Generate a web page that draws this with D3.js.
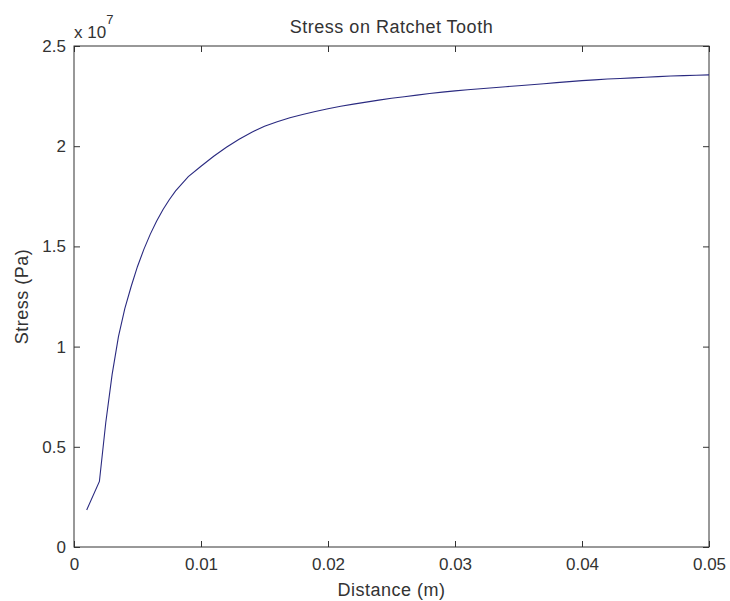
<!DOCTYPE html>
<html>
<head>
<meta charset="utf-8">
<script src="https://cdn.jsdelivr.net/npm/d3@7"></script>
<style>
  body { margin: 0; background: #fff; }
  svg text { font-family: "Liberation Sans", Arial, sans-serif; fill: #333; }
</style>
</head>
<body>
<div id="graph"></div>
<script>
const width = 730, height = 601;
const margin = {top: 46, right: 21, bottom: 54, left: 74};

// distance (m)
const distance = [0.001, 0.002, 0.0025, 0.003, 0.0035, 0.004, 0.0045, 0.005, 0.0055, 0.006,
  0.0065, 0.007, 0.0075, 0.008, 0.009, 0.010, 0.011, 0.012, 0.013, 0.014,
  0.015, 0.016, 0.017, 0.018, 0.019, 0.020, 0.021, 0.022, 0.023, 0.024,
  0.025, 0.026, 0.027, 0.028, 0.029, 0.030, 0.031, 0.032, 0.033, 0.034,
  0.035, 0.036, 0.037, 0.038, 0.039, 0.040, 0.041, 0.042, 0.043, 0.044,
  0.045, 0.046, 0.047, 0.048, 0.049, 0.050];
// stress in units of 1e7 Pa
const stress = [0.185, 0.327, 0.62, 0.86, 1.05, 1.19, 1.30, 1.40, 1.485, 1.56,
  1.625, 1.683, 1.733, 1.777, 1.848, 1.90, 1.95, 1.995, 2.035, 2.07,
  2.10, 2.122, 2.142, 2.158, 2.173, 2.187, 2.199, 2.21, 2.22, 2.23,
  2.239, 2.247, 2.255, 2.263, 2.27, 2.276, 2.282, 2.287, 2.292, 2.297,
  2.302, 2.307, 2.312, 2.317, 2.322, 2.327, 2.331, 2.335, 2.338, 2.341,
  2.344, 2.347, 2.35, 2.352, 2.354, 2.356];

const xTicks = [0, 0.01, 0.02, 0.03, 0.04, 0.05];
const yTicks = [0, 0.5, 1, 1.5, 2, 2.5];

const innerW = width - margin.left - margin.right,
      innerH = height - margin.top - margin.bottom;

const x = d3.scaleLinear().domain([0, 0.05]).range([0, innerW]);
const y = d3.scaleLinear().domain([0, 2.5]).range([innerH, 0]);

const svg = d3.select("#graph")
  .append("svg")
  .attr("width", width)
  .attr("height", height)
  .style("font-size", "18px");

const g = svg.append("g")
  .attr("transform", `translate(${margin.left},${margin.top})`);

const fmt = d => String(+d.toFixed(2));

// bottom and top x axes, ticks pointing inward
const xb = g.append("g")
  .attr("transform", `translate(0,${innerH})`)
  .call(d3.axisBottom(x).tickValues(xTicks).tickFormat(fmt).tickSizeInner(-6).tickSizeOuter(0).tickPadding(11));
const xt = g.append("g")
  .call(d3.axisTop(x).tickValues(xTicks).tickFormat("").tickSizeInner(-6).tickSizeOuter(0));

const yl = g.append("g")
  .call(d3.axisLeft(y).tickValues(yTicks).tickFormat(fmt).tickSizeInner(-6).tickSizeOuter(0).tickPadding(8));
const yr = g.append("g")
  .attr("transform", `translate(${innerW},0)`)
  .call(d3.axisRight(y).tickValues(yTicks).tickFormat("").tickSizeInner(-6).tickSizeOuter(0));

[xb, xt, yl, yr].forEach(a => {
  a.select(".domain").remove();
  a.selectAll("line").attr("stroke", "#333");
  a.selectAll("text").attr("font-size", 17).attr("fill", "#444");
});

g.append("rect")
  .attr("width", innerW)
  .attr("height", innerH)
  .attr("fill", "none")
  .attr("stroke", "#333")
  .attr("stroke-width", 1);

const line = d3.line()
  .x((d, i) => x(distance[i]))
  .y(d => y(d));

g.append("path")
  .datum(stress)
  .attr("fill", "none")
  .attr("stroke", "#2a2a80")
  .attr("stroke-width", 1.1)
  .attr("d", line);

// exponent label
const ex = svg.append("text")
  .attr("x", margin.left)
  .attr("y", 38)
  .attr("font-size", 17)
  .attr("fill", "#444");
ex.append("tspan").text("x 10");
ex.append("tspan").attr("dy", -14).attr("font-size", 13).text("7");

svg.append("text")
  .attr("x", margin.left + innerW / 2)
  .attr("y", 33)
  .attr("text-anchor", "middle")
  .attr("letter-spacing", 0.5)
  .text("Stress on Ratchet Tooth");

svg.append("text")
  .attr("x", margin.left + innerW / 2)
  .attr("y", 596)
  .attr("text-anchor", "middle")
  .attr("letter-spacing", 0.5)
  .text("Distance (m)");

svg.append("text")
  .attr("transform", `translate(28,${margin.top + innerH / 2}) rotate(-90)`)
  .attr("text-anchor", "middle")
  .attr("letter-spacing", 0.5)
  .text("Stress (Pa)");
</script>
</body>
</html>
